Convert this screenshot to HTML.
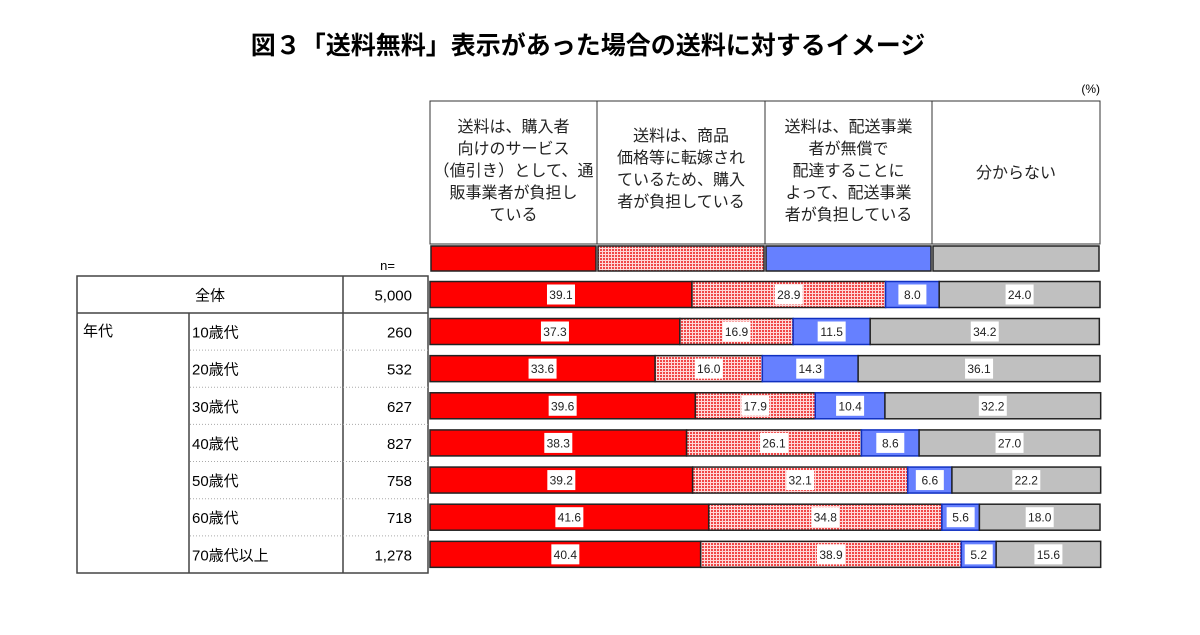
<!DOCTYPE html>
<html><head><meta charset="utf-8"><style>
body{margin:0;background:#fff;width:1200px;height:630px;overflow:hidden;font-family:"Liberation Sans","Noto Sans CJK JP",sans-serif}
</style></head><body>
<svg width="1200" height="630" xmlns="http://www.w3.org/2000/svg" font-family="Liberation Sans, Noto Sans CJK JP, sans-serif">
<defs>
<pattern id="dots" width="3" height="3" patternUnits="userSpaceOnUse">
<rect width="3" height="3" fill="#ffd8d8"/><rect width="2" height="2" fill="#f04848"/>
</pattern>
</defs>
<text x="588" y="54" text-anchor="middle" font-size="25" font-weight="bold">図３「送料無料」表示があった場合の送料に対するイメージ</text>
<text x="1100" y="93" text-anchor="end" font-size="12">(%)</text>
<g id="hdr"></g>
<g id="tbl"></g>
<g id="bars"></g>
</svg>
<script>
const categories=["全体","10歳代","20歳代","30歳代","40歳代","50歳代","60歳代","70歳代以上"];
const nValues=["5,000","260","532","627","827","758","718","1,278"];
const s1=[39.1,37.3,33.6,39.6,38.3,39.2,41.6,40.4];
const s2=[28.9,16.9,16.0,17.9,26.1,32.1,34.8,38.9];
const s3=[8.0,11.5,14.3,10.4,8.6,6.6,5.6,5.2];
const s4=[24.0,34.2,36.1,32.2,27.0,22.2,18.0,15.6];
const seriesNames=[["送料は、購入者","向けのサービス","（値引き）として、通","販事業者が負担し","ている"],["送料は、商品","価格等に転嫁され","ているため、購入","者が負担している"],["送料は、配送事業","者が無償で","配達することに","よって、配送事業","者が負担している"],["分からない"]];
const NS="http://www.w3.org/2000/svg";
const X0=430,W=670;
const xs=v=>X0+v/100*W;
const rowY=i=>i===0?294.5:313+37.14*(i-1)+18.5;
const fills=["#ff0000","url(#dots)","#6680ff","#c0c0c0"];
const strokes=["#222","#222","#1030c0","#222"];
function mk(t,a,p){const e=document.createElementNS(NS,t);for(const k in a)e.setAttribute(k,a[k]);p.appendChild(e);return e;}
const hdr=document.getElementById('hdr');
mk('rect',{x:430,y:101,width:670,height:143,fill:'#fff',stroke:'#333'},hdr);
const cols=[430,597,765,932,1100];
seriesNames.forEach((lines,k)=>{
  if(k>0)mk('line',{x1:cols[k],y1:101,x2:cols[k],y2:244,stroke:'#333'},hdr);
  const cx=(cols[k]+cols[k+1])/2;
  const y0=k===3?178:(k===1?141:132);
  lines.forEach((l,j)=>{const t=mk('text',{x:cx,y:y0+j*22,'text-anchor':'middle','font-size':16,fill:'#222','textLength':k===0&&j===2?160:null},hdr);if(!(k===0&&j===2))t.removeAttribute('textLength');t.textContent=l;
  
  });
  const sw=mk('rect',{x:cols[k]+1,y:246,width:cols[k+1]-cols[k]-2,height:25,fill:fills[k],stroke:'#222','stroke-width':1.5},hdr);
  
  
});
const tbl=document.getElementById('tbl');
mk('text',{x:395,y:270,'text-anchor':'end','font-size':13},tbl).textContent="n=";
mk('rect',{x:77,y:276,width:351,height:297,fill:'none',stroke:'#444','stroke-width':1.5},tbl);
mk('line',{x1:77,y1:313,x2:428,y2:313,stroke:'#444','stroke-width':1.5},tbl);
mk('line',{x1:343,y1:276,x2:343,y2:573,stroke:'#444','stroke-width':1.5},tbl);
mk('line',{x1:189,y1:313,x2:189,y2:573,stroke:'#444','stroke-width':1.5},tbl);
mk('text',{x:83,y:336,'font-size':15},tbl).textContent="年代";
categories.forEach((c,i)=>{
  const y=rowY(i);
  if(i>1)mk('line',{x1:190,y1:313+37.14*(i-1),x2:428,y2:313+37.14*(i-1),stroke:'#aaa','stroke-dasharray':'1,2'},tbl);
  const t=mk('text',{x:i===0?210:192,y:y+6,'text-anchor':i===0?'middle':'start','font-size':15},tbl);t.textContent=c;
  
  
  const n=mk('text',{x:412,y:y+6,'text-anchor':'end','font-size':15},tbl);n.textContent=nValues[i];
  
  
});
const bars=document.getElementById('bars');
const series=[s1,s2,s3,s4];
categories.forEach((c,i)=>{
  const y=rowY(i);let acc=0;
  series.forEach((s,k)=>{
    const v=s[i];const x1=xs(acc),x2=xs(acc+v);acc+=v;
    const r=mk('rect',{x:x1,y:y-13,width:x2-x1,height:26,fill:fills[k],stroke:strokes[k],'stroke-width':1.5},bars);
    
    
    const cx=(x1+x2)/2;
    mk('rect',{x:cx-14,y:y-10,width:28,height:20,fill:'#fff'},bars);
    const t=mk('text',{x:cx,y:y+4.5,'text-anchor':'middle','font-size':12,fill:'#222'},bars);t.textContent=v.toFixed(1);
    
    
  });
});
</script>
</body></html>
